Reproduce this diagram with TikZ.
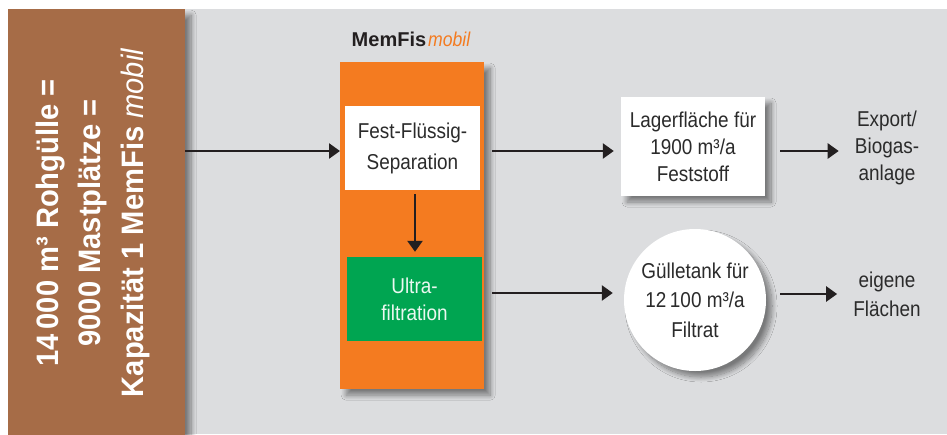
\documentclass[tikz,border=0pt]{standalone}
\usepackage{fontspec}
\setmainfont{Liberation Sans}
\newfontfamily\cf[FakeStretch=0.88]{Liberation Sans}
\newfontfamily\cfb[FakeStretch=0.94]{Liberation Sans}
\usetikzlibrary{arrows.meta,shadows.blur}
\definecolor{bgray}{HTML}{DCDDDF}
\definecolor{brownc}{HTML}{A66C47}
\definecolor{orangec}{HTML}{F47B20}
\definecolor{greenc}{HTML}{00A551}
\definecolor{ink}{HTML}{231F20}
\definecolor{txt}{HTML}{2B2B2B}
\tikzset{
  shd/.style={blur shadow={shadow xshift=6pt, shadow yshift=-6pt, shadow blur radius=5pt, shadow blur steps=12, shadow opacity=45}},
  boxtxt/.style={align=center, text=txt, inner sep=0pt},
  arr/.style={draw=ink, line width=2.5pt, -{Triangle[length=11pt,width=15pt]}},
  sidetxt/.style={align=center, text=txt, inner sep=0pt},
  brownline/.style={rotate=90, anchor=base, text=white, inner sep=0pt, font=\cfb\fontsize{31}{36}\selectfont\bfseries}
}
\begin{document}
\begin{tikzpicture}[x=1pt,y=-1pt]
\useasboundingbox (0,0) rectangle (947,434);
\fill[white] (0,0) rectangle (947,434);
\fill[bgray] (8,9) rectangle (947,434);

% brown panel
\node[fill=brownc, minimum width=177pt, minimum height=430pt, inner sep=0pt, anchor=north west, shd] (brown) at (8,9) {};
\node[brownline] (l1) at (58,223) {14\,000 m³ Rohgülle =};
\node[brownline] (l2) at (100,223) {9000 Mastplätze =};
\node[brownline] (l3) at (143,223) {Kapazität 1 MemFis {\mdseries\itshape mobil}};

% MemFis mobil title
\node[anchor=base, inner sep=0pt, text=ink, font=\fontsize{20}{24}\selectfont] (title) at (411,46) {\bfseries MemFis\hspace{2pt}{\cf\mdseries\itshape\color{orangec}mobil}};

% orange unit
\node[fill=orangec, minimum width=144pt, minimum height=327pt, inner sep=0pt, anchor=north west, shd] (orange) at (340,62) {};
\node[fill=white, minimum width=135pt, minimum height=84pt, boxtxt, font=\cf\fontsize{21.5}{31}\selectfont] (fest) at (412.5,148) {Fest-Flüssig-\\Separation};
\node[fill=greenc, minimum width=135pt, minimum height=84pt, boxtxt, text=white!92!greenc, font=\cf\fontsize{21.5}{27}\selectfont] (ultra) at (414.5,299) {Ultra-\\filtration};

% outputs
\node[fill=white, minimum width=144pt, minimum height=99pt, boxtxt, shd, font=\cf\fontsize{21.5}{27}\selectfont] (lager) at (693,146.5) {Lagerfläche für\\1900 m³/a\\Feststoff};
\node[circle, fill=white, minimum size=142pt, boxtxt, shd, font=\cf\fontsize{21.5}{29.5}\selectfont] (tank) at (695,300) {Gülletank für\\12\,100 m³/a\\Filtrat};
\node[sidetxt, font=\cf\fontsize{21.5}{27}\selectfont] (export) at (887,148) {Export/\\Biogas-\\anlage};
\node[sidetxt, font=\cf\fontsize{21.5}{29}\selectfont] (eigene) at (887,294) {eigene\\Flächen};

% connectors
\draw[arr] (brown.east |- 0,151) -- (orange.west |- 0,151);
\draw[arr, shorten <=8pt, shorten >=7pt] (orange.east |- 0,151) -- (lager.west |- 0,151);
\draw[arr, shorten <=15pt, shorten >=16pt] (lager.east |- 0,151) -- (export.west |- 0,151);
\draw[arr, shorten <=4pt, shorten >=5pt] (fest.south -| 415,0) -- (ultra.north -| 415,0);
\draw[arr, shorten <=10pt, shorten >=11pt] (ultra.east |- 0,293) -- (tank.west |- 0,293);
\draw[arr, shorten <=14pt, shorten >=16pt] (tank.east |- 0,294) -- (eigene.west |- 0,294);
\end{tikzpicture}
\end{document}
